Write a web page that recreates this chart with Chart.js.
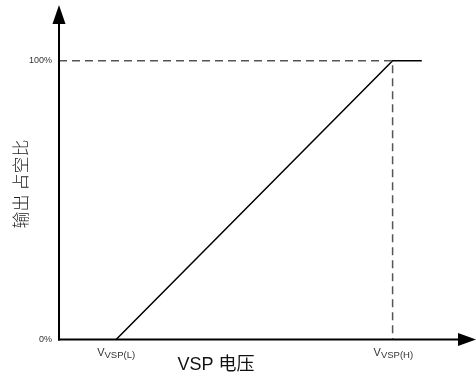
<!DOCTYPE html>
<html>
<head>
<meta charset="utf-8">
<script src="https://cdn.jsdelivr.net/npm/chart.js@4"></script>
<style>
  html, body { margin: 0; padding: 0; background: #fff; }
  #wrap { width: 476px; height: 380px; }
</style>
</head>
<body>
<div id="wrap"><canvas id="vspChart" width="476" height="380"></canvas></div>
<script>
// duty curve: 0% below V_VSP(L), linear up to V_VSP(H), then flat at 100%
const vspValues = [13.7, 80, 87];
const dutyValues = [0, 100, 100];

// dashed guides to the 100% level and down from V_VSP(H)
const guideX = [0, 80, 80];
const guideY = [100, 100, 0];

const xTickValues = [13.7, 80];
const xTickSubs = ['VSP(L)', 'VSP(H)'];
const yTickValues = [0, 100];
const yTickLabels = ['0%', '100%'];

const xTitle = 'VSP 电压';
const yTitle = '输出 占空比';

const FONT = '"Liberation Sans", Arial, "Noto Sans CJK SC", sans-serif';

const axesPlugin = {
  id: 'arrowAxes',
  afterDatasetsDraw(chart) {
    const { ctx, chartArea, scales } = chart;
    const x0 = chartArea.left;
    const y0 = chartArea.bottom;

    ctx.save();
    ctx.strokeStyle = '#000';
    ctx.fillStyle = '#000';
    ctx.lineWidth = 2;

    // vertical axis with arrow
    ctx.beginPath();
    ctx.moveTo(x0, y0 + 1);
    ctx.lineTo(x0, chartArea.top + 16);
    ctx.stroke();
    ctx.beginPath();
    ctx.moveTo(x0, chartArea.top);
    ctx.lineTo(x0 - 6.5, chartArea.top + 19);
    ctx.lineTo(x0 + 6.5, chartArea.top + 19);
    ctx.closePath();
    ctx.fill();

    // horizontal axis with arrow
    ctx.beginPath();
    ctx.moveTo(x0 - 1, y0);
    ctx.lineTo(chartArea.right - 14, y0);
    ctx.stroke();
    ctx.beginPath();
    ctx.moveTo(chartArea.right, y0);
    ctx.lineTo(chartArea.right - 18, y0 - 6.5);
    ctx.lineTo(chartArea.right - 18, y0 + 6.5);
    ctx.closePath();
    ctx.fill();

    // y tick labels
    ctx.fillStyle = '#333';
    ctx.font = '9px ' + FONT;
    ctx.textAlign = 'right';
    ctx.textBaseline = 'middle';
    yTickValues.forEach((v, i) => {
      ctx.fillText(yTickLabels[i], x0 - 7, scales.y.getPixelForValue(v));
    });

    // x tick labels, V with subscript
    ctx.textAlign = 'left';
    ctx.textBaseline = 'alphabetic';
    xTickValues.forEach((v, i) => {
      const px = scales.x.getPixelForValue(v) - 19;
      ctx.font = '11px ' + FONT;
      ctx.fillText('V', px, 356);
      const w = ctx.measureText('V').width;
      ctx.font = '9.5px ' + FONT;
      ctx.fillText(xTickSubs[i], px + w, 358);
    });

    // axis titles
    ctx.fillStyle = '#111';
    ctx.font = '18px ' + FONT;
    ctx.textAlign = 'center';
    ctx.textBaseline = 'middle';
    ctx.fillText(xTitle, 216, 365);

    ctx.fillStyle = '#222';
    ctx.translate(21, 184);
    ctx.rotate(-Math.PI / 2);
    ctx.font = '300 17px "Noto Sans CJK SC", sans-serif';
    ctx.fillText(yTitle, 0, 0);
    ctx.restore();
  }
};

new Chart(document.getElementById('vspChart').getContext('2d'), {
  type: 'line',
  data: {
    datasets: [
      {
        label: 'guides',
        data: guideX.map((x, i) => ({ x, y: guideY[i] })),
        borderColor: '#555',
        borderWidth: 1.5,
        borderDash: [8, 5],
        pointRadius: 0,
        fill: false
      },
      {
        label: 'duty',
        data: vspValues.map((x, i) => ({ x, y: dutyValues[i] })),
        borderColor: '#000',
        borderWidth: 1.5,
        pointRadius: 0,
        fill: false
      }
    ]
  },
  options: {
    responsive: false,
    animation: false,
    layout: { padding: { left: 59, right: 0, top: 5, bottom: 40.5 } },
    plugins: { legend: { display: false }, tooltip: { enabled: false } },
    scales: {
      x: { type: 'linear', min: 0, max: 100, display: false },
      y: { type: 'linear', min: 0, max: 120, display: false }
    }
  },
  plugins: [axesPlugin]
});
</script>
</body>
</html>
